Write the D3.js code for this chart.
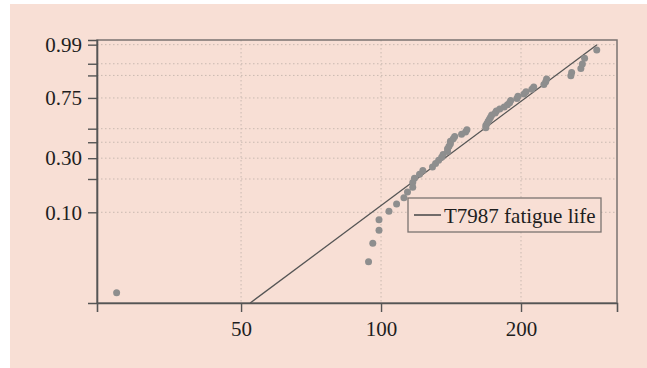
<!DOCTYPE html>
<html>
<head>
<meta charset="utf-8">
<script src="https://cdn.jsdelivr.net/npm/d3@7"></script>
<style>
  html, body { margin: 0; padding: 0; background: #fff; }
  svg { display: block; }
  text { font-family: 'Liberation Serif', 'Times New Roman', serif; fill: #1e1e1e; }
</style>
</head>
<body>
<svg id="chart" width="647" height="368"></svg>
<script>
// fatigue life (kilocycles), sorted
var life = [27, 94, 96, 99, 99, 104, 108, 112, 114, 117,
  117, 118, 121, 123, 129, 131, 133, 135, 136, 139,
  139, 140, 141, 141, 143, 144, 149, 152, 153, 168,
  168, 169, 170, 171, 172, 173, 176, 177, 180, 184,
  187, 189, 190, 196, 197, 203, 205, 211, 213, 224,
  226, 227, 256, 257, 269, 271, 274, 291];
// plotting position for each point (fraction failing)
var prob = [0.017, 0.034, 0.051, 0.068, 0.085, 0.102, 0.119, 0.136, 0.153, 0.169,
  0.186, 0.203, 0.220, 0.237, 0.254, 0.271, 0.288, 0.305, 0.322, 0.339,
  0.356, 0.373, 0.390, 0.407, 0.424, 0.441, 0.458, 0.475, 0.492, 0.508,
  0.525, 0.542, 0.559, 0.576, 0.593, 0.610, 0.627, 0.644, 0.661, 0.678,
  0.695, 0.712, 0.729, 0.746, 0.763, 0.780, 0.797, 0.814, 0.831, 0.847,
  0.864, 0.881, 0.898, 0.915, 0.932, 0.949, 0.966, 0.983];

var xTicks = [50, 100, 200];
var yTicks = [0.99, 0.95, 0.90, 0.75, 0.50, 0.40, 0.30, 0.20, 0.10];
var yLabels = [0.99, 0.75, 0.30, 0.10];
var xDomain = [24.5, 321.7];
var yDomain = [0.01355, 0.994];
// weibull fit drawn as the line
var fitShape = 3.39, fitScale = 185.7;
var legendLabel = 'T7987 fatigue life';

var W = 647, H = 368;
var margin = {top: 40, right: 30, bottom: 65, left: 97};
var pw = W - margin.left - margin.right;
var ph = H - margin.top - margin.bottom;

var bg = '#f8dfd5';

// weibull probability transform
function wb(p) { return Math.log(-Math.log(1 - p)); }

var svg = d3.select('#chart');
svg.append('rect')
  .attr('x', 10).attr('y', 4)
  .attr('width', W - 10).attr('height', H - 4)
  .attr('fill', bg);

var x = d3.scaleLog().domain(xDomain).range([0, pw]);
var yw = d3.scaleLinear().domain(yDomain.map(wb)).range([ph, 0]);
function y(p) { return yw(wb(p)); }

var g = svg.append('g')
  .attr('transform', 'translate(' + margin.left + ',' + margin.top + ')');

g.append('defs').append('clipPath').attr('id', 'clip')
  .append('rect').attr('width', pw).attr('height', ph);

// grid
g.append('g').selectAll('line.hg')
  .data(yTicks).enter().append('line')
  .attr('x1', 0).attr('x2', pw)
  .attr('y1', function(d){ return y(d); })
  .attr('y2', function(d){ return y(d); })
  .attr('stroke', '#c9b9b1').attr('stroke-width', 1)
  .attr('stroke-dasharray', '1.5,2.5');
g.append('g').selectAll('line.vg')
  .data(xTicks).enter().append('line')
  .attr('y1', 0).attr('y2', ph)
  .attr('x1', function(d){ return x(d); })
  .attr('x2', function(d){ return x(d); })
  .attr('stroke', '#c9b9b1').attr('stroke-width', 1)
  .attr('stroke-dasharray', '1.5,2.5');

// frame
g.append('rect')
  .attr('width', pw).attr('height', ph)
  .attr('fill', 'none').attr('stroke', '#7a7370').attr('stroke-width', 1.5);

// axes
var yAxis = d3.axisLeft(yw)
  .tickValues(yTicks.map(wb))
  .tickSize(9)
  .tickPadding(6)
  .tickFormat(function(d){
    var p = 1 - Math.exp(-Math.exp(d));
    var hit = yLabels.filter(function(v){ return Math.abs(v - p) < 1e-6; });
    return hit.length ? d3.format('.2f')(hit[0]) : '';
  });
var xAxis = d3.axisBottom(x)
  .tickValues(xTicks)
  .tickSize(9)
  .tickPadding(9)
  .tickFormat(d3.format('d'));

var ya = g.append('g').call(yAxis);
var xa = g.append('g').attr('transform', 'translate(0,' + ph + ')').call(xAxis);
[ya, xa].forEach(function(a){
  a.attr('font-size', 21).attr('font-family', "'Liberation Serif', 'Times New Roman', serif");
  a.select('.domain').attr('stroke', '#555').attr('stroke-width', 1.6);
  a.selectAll('.tick line').attr('stroke', '#555').attr('stroke-width', 1.4);
  a.selectAll('.tick text').attr('fill', '#1e1e1e');
});
xa.selectAll('.tick text').attr('dy', '0.71em');

// fit line, from the bottom of the plot up to p = 0.99
var fitLife = [fitScale * Math.pow(-Math.log(1 - yDomain[0]), 1 / fitShape),
  fitScale * Math.pow(-Math.log(1 - 0.99), 1 / fitShape)];
var fitPts = fitLife.map(function(t){
  return [t, 1 - Math.exp(-Math.pow(t / fitScale, fitShape))];
});
g.append('path')
  .datum(fitPts)
  .attr('clip-path', 'url(#clip)')
  .attr('fill', 'none').attr('stroke', '#555').attr('stroke-width', 1.3)
  .attr('d', d3.line()
    .x(function(d){ return x(d[0]); })
    .y(function(d){ return y(d[1]); }));

// points
g.append('g').selectAll('circle')
  .data(life).enter().append('circle')
  .attr('cx', function(d){ return x(d); })
  .attr('cy', function(d, i){ return y(prob[i]); })
  .attr('r', 3.5)
  .attr('fill', '#8e8e8e');

// legend
var lg = svg.append('g').attr('transform', 'translate(408,198)');
lg.append('rect')
  .attr('width', 193).attr('height', 34)
  .attr('fill', bg).attr('stroke', '#7a7370').attr('stroke-width', 1.3);
lg.append('line')
  .attr('x1', 6).attr('x2', 33).attr('y1', 17).attr('y2', 17)
  .attr('stroke', '#444').attr('stroke-width', 1.5);
lg.append('text')
  .attr('x', 36).attr('y', 24.5)
  .attr('font-size', 21)
  .text(legendLabel);
</script>
</body>
</html>
